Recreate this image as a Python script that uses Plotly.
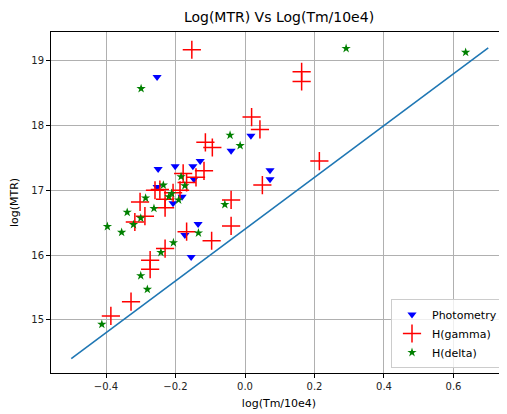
import plotly.graph_objects as go

# Photometry
phot_x = [-0.253, -0.250, -0.201, -0.150, -0.129, -0.147, -0.040, 0.017, 0.072, 0.072,
          -0.181, -0.207, -0.253, -0.135, -0.173, -0.155]
phot_y = [18.75, 17.33, 17.37, 17.37, 17.45, 17.17, 17.61, 17.84, 17.31, 17.17,
          16.90, 16.80, 17.05, 16.48, 16.31, 15.97]

# H(gamma)
hg_x = [-0.153, 0.019, 0.043, -0.114, -0.094, -0.178, -0.118, -0.141, -0.168, 0.050,
        -0.040, -0.040, -0.259, -0.245, -0.207, -0.187, -0.302, -0.288, -0.317, -0.230,
        -0.168, -0.096, -0.230, -0.273, -0.273, -0.328, -0.386, 0.163, 0.163, 0.214, -0.230]
hg_y = [19.17, 18.13, 17.94, 17.74, 17.66, 17.26, 17.30, 17.20, 17.12, 17.08,
        16.85, 16.45, 17.00, 17.01, 16.96, 17.00, 16.82, 16.60, 16.51, 16.73,
        16.36, 16.22, 16.10, 15.92, 15.78, 15.28, 15.06, 18.83, 18.68, 17.45, 16.86]

# H(delta)
hd_x = [-0.299, -0.043, -0.014, -0.184, -0.173, -0.235, -0.286, -0.219, -0.191, -0.211,
        -0.058, 0.291, 0.635, -0.339, -0.262, -0.300, -0.321, -0.396, -0.355, -0.206,
        -0.134, -0.242, -0.300, -0.281, -0.412]
hd_y = [18.57, 17.85, 17.69, 17.21, 17.07, 17.08, 16.88, 16.90, 16.85, 16.95,
        16.78, 19.19, 19.13, 16.66, 16.72, 16.57, 16.47, 16.44, 16.35, 16.19,
        16.34, 16.04, 15.68, 15.47, 14.93]

# reference line
line_x = [-0.5, 0.7]
line_y = [14.4, 19.2]

x_ticks = [-0.4, -0.2, 0.0, 0.2, 0.4, 0.6]
x_labels = ["\u22120.4", "\u22120.2", "0.0", "0.2", "0.4", "0.6"]
y_ticks = [15, 16, 17, 18, 19]
y_labels = ["15", "16", "17", "18", "19"]

fig = go.Figure()
fig.add_trace(go.Scatter(x=line_x, y=line_y, mode="lines",
                         line=dict(color="#1f77b4", width=1.6), showlegend=False))
fig.add_trace(go.Scatter(x=phot_x, y=phot_y, mode="markers", name="Photometry",
                         marker=dict(symbol="triangle-down", color="blue", size=8,
                                     line=dict(width=0))))
fig.add_trace(go.Scatter(x=hg_x, y=hg_y, mode="markers", name="H(gamma)",
                         marker=dict(symbol="cross-thin", color="red", size=13,
                                     line=dict(width=1.5, color="red"))))
fig.add_trace(go.Scatter(x=hd_x, y=hd_y, mode="markers", name="H(delta)",
                         marker=dict(symbol="star", color="green", size=7,
                                     line=dict(width=0))))

axis_common = dict(showgrid=True, gridcolor="#b0b0b0", gridwidth=0.8,
                   showline=True, linecolor="black", linewidth=1, mirror=True,
                   ticks="outside", ticklen=4, tickcolor="black", zeroline=False,
                   automargin=False, tickfont=dict(size=10, color="#222"))

# page body has an 8px margin, so the figure is 8px smaller and starts at (8, 8)
W, H = 499, 406
fig.update_layout(
    width=W, height=H,
    margin=dict(l=43, r=0, t=24, b=41, autoexpand=False),
    paper_bgcolor="white", plot_bgcolor="white",
    font=dict(family="DejaVu Sans", color="black"),
    title=dict(text="Log(MTR) Vs Log(Tm/10e4)", x=(43 + W) / 2 / W, xanchor="center",
               y=1 - 9 / H, yanchor="middle", font=dict(size=14)),
    xaxis=dict(range=[-0.5583, 0.754], tickvals=x_ticks, ticktext=x_labels,
               title=dict(text="log(Tm/10e4)", font=dict(size=11), standoff=8), **axis_common),
    yaxis=dict(range=[14.178, 19.444], tickvals=y_ticks, ticktext=y_labels,
               title=dict(text="log(MTR)", font=dict(size=11), standoff=10), **axis_common),
    legend=dict(x=(503 - 51) / 456, y=(373 - 368) / 341, xanchor="right", yanchor="bottom",
                bgcolor="rgba(255,255,255,0.8)", bordercolor="#cccccc", borderwidth=1,
                font=dict(size=11), itemsizing="trace", tracegroupgap=0, itemwidth=30),
)

fig.write_html("out.html")
